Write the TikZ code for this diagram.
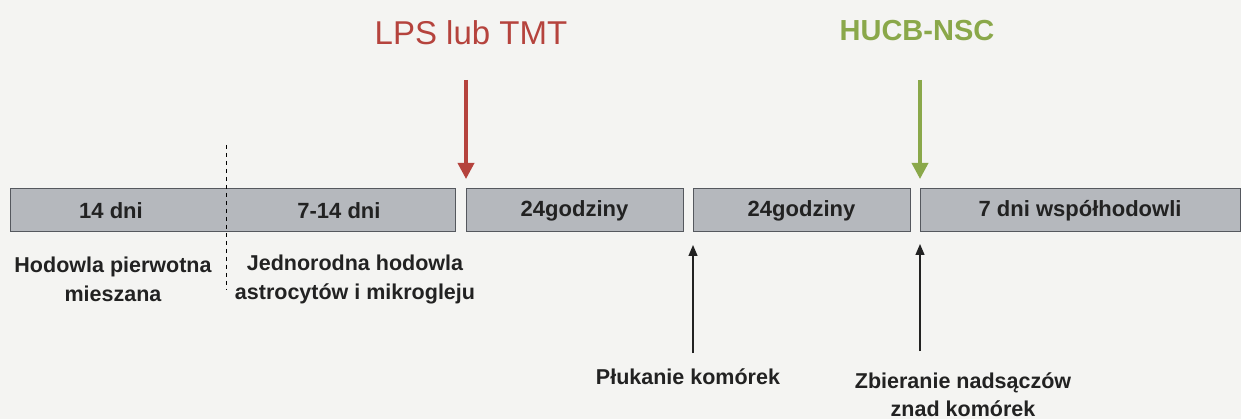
\documentclass[tikz,border=0pt]{standalone}
\usepackage{fontspec}
\setmainfont{Liberation Sans}
\usetikzlibrary{arrows.meta}
\definecolor{bgc}{HTML}{F4F4F2}
\definecolor{boxfill}{HTML}{B5B8BD}
\definecolor{boxdraw}{HTML}{55585E}
\definecolor{lpsred}{HTML}{B5433D}
\definecolor{hucbgreen}{HTML}{8AA84A}
\definecolor{txt}{HTML}{222222}
\begin{document}
\begin{tikzpicture}[x=1pt,y=-1pt,
  phase/.style={draw=boxdraw,line width=1pt,fill=boxfill,minimum height=43pt,inner sep=0pt,
    font=\fontsize{22}{26}\selectfont\bfseries,text=txt},
  phasetext/.style={font=\fontsize{22}{26}\selectfont\bfseries,text=txt,inner sep=0pt},
  lbl/.style={font=\fontsize{21.5}{26}\selectfont\bfseries,text=txt,align=center,inner sep=0pt},
  redarrow/.style={draw=lpsred,line width=3.5pt,-{Triangle[width=16pt,length=16pt]}},
  greenarrow/.style={draw=hucbgreen,line width=3.5pt,-{Triangle[width=16pt,length=16pt]}},
  uparrow/.style={draw=txt,line width=1.3pt,-{Triangle[width=9pt,length=11pt]}}]
\fill[bgc] (0,0) rectangle (1241,419);
\useasboundingbox (0,0) rectangle (1241,419);

\node[phase,minimum width=445pt] (b1) at (232.5,210.5) {};
\node[phase,minimum width=217pt] (b2) at (574.5,210.5) {24godziny};
\node[phase,minimum width=217pt] (b3) at (801.5,210.5) {24godziny};
\node[phase,minimum width=320pt] (b4) at (1080,210.5) {7 dni współhodowli};
\node[phasetext] (t1) at (111,210.5) {14 dni};
\node[phasetext] (t2) at (339,210.5) {7-14 dni};

\coordinate (d1) at (226,145);
\coordinate (d2) at (226,290);
\draw[black,line width=1pt,dash pattern=on 4pt off 4pt] (d1) -- (d2);

\node[font=\fontsize{33}{36}\selectfont,text=lpsred] (lps) at (471,33) {LPS lub TMT};
\node[font=\fontsize{29}{32}\selectfont\bfseries,text=hucbgreen] (hucb) at (917,31) {HUCB-NSC};
\coordinate (r1) at (466,80);
\coordinate (r2) at (466,179);
\coordinate (g1) at (920,80);
\coordinate (g2) at (920,179);
\draw[redarrow] (r1) -- (r2);
\draw[greenarrow] (g1) -- (g2);

\node[lbl] (l1) at (113,279) {Hodowla pierwotna\\[3pt]mieszana};
\node[lbl] (l2) at (355,279) {Jednorodna hodowla\\[3pt]astrocytów i mikrogleju};

\coordinate (u1) at (693,353);
\coordinate (u1t) at (693,245);
\coordinate (u2) at (920,351);
\coordinate (u2t) at (920,244);
\draw[uparrow] (u1) -- (u1t);
\draw[uparrow] (u2) -- (u2t);
\node[lbl] (pl) at (688,377) {Płukanie komórek};
\node[lbl] (zb) at (963,395) {Zbieranie nadsączów\\[2pt]znad komórek};
\end{tikzpicture}
\end{document}
